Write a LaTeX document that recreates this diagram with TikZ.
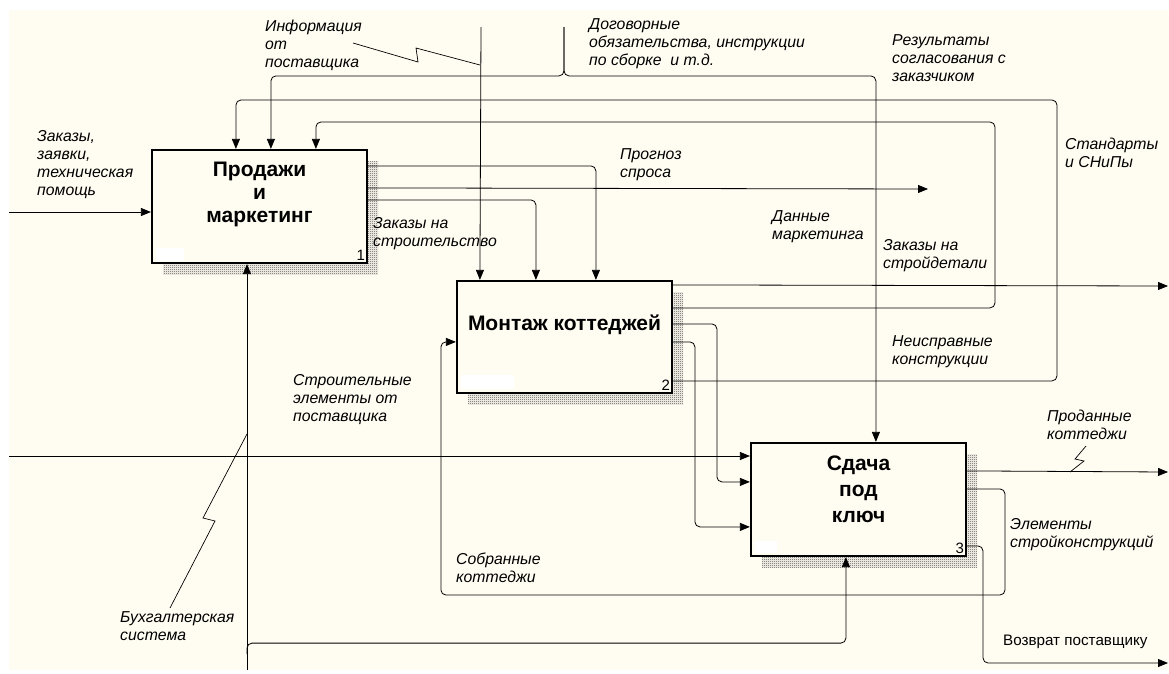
\documentclass[tikz,border=0pt]{standalone}
\usepackage{fontspec}
\setmainfont{Liberation Sans}
\usetikzlibrary{arrows.meta,positioning,calc,patterns}
\definecolor{paper}{HTML}{FFFDF2}

\pgfdeclarepatternformonly{fine checker}{\pgfpointorigin}{\pgfpoint{2pt}{2pt}}{\pgfpoint{2pt}{2pt}}{%
  \pgfpathrectangle{\pgfpointorigin}{\pgfpoint{1pt}{1pt}}%
  \pgfpathrectangle{\pgfpoint{1pt}{1pt}}{\pgfpoint{1pt}{1pt}}%
  \pgfusepath{fill}}

\tikzset{
  proc/.style={draw=black, line width=2.2pt, fill=paper, minimum width=215pt, minimum height=113pt, inner sep=0pt,
    preaction={pattern=fine checker, pattern color=black!70, transform canvas={xshift=11pt,yshift=-11pt}}},
  title/.style={align=center, inner sep=0pt, font=\fontsize{21}{23}\selectfont\bfseries},
  num/.style={anchor=south east, inner sep=3pt, font=\fontsize{15}{15}\selectfont},
  lbl/.style={anchor=north west, align=left, inner sep=0pt, font=\fontsize{15.8}{18}\selectfont\itshape},
  flow/.style={line width=0.8pt, rounded corners=5pt, -{Triangle[length=10pt,width=8pt]}},
  squig/.style={line width=0.7pt},
}

\begin{document}
\begin{tikzpicture}[x=1pt, y=-1pt]

% sheet
\fill[white] (0,0) rectangle (1169,673);
\useasboundingbox (0,0) rectangle (1169,673);
\fill[paper] (9,10) rectangle (1169,670);

% BLOCKS
\node (sales) [proc] at (259.5,206.5) {};
\node (assembly) [proc, minimum height=112pt] at (564.5,337) {};
\node (handover) [proc] at (858.5,499.5) {};

\fill[white] ($(sales.south west)+(5,-3)$) rectangle +(28,-13);
\fill[white] ($(assembly.south west)+(5,-5)$) rectangle +(53,-14);
\fill[white] ($(handover.south west)+(5,-4)$) rectangle +(22,-12);

\node [title] at ([yshift=12.5pt]sales.center) {Продажи\\и\\маркетинг};
\node [title] at ([yshift=12pt]assembly.center) {Монтаж коттеджей};
\node [title, font=\fontsize{21}{26}\selectfont\bfseries] at ([yshift=10.5pt]handover.center) {Сдача\\под\\ключ};

\node [num] at (sales.south east) {1};
\node [num] at (assembly.south east) {2};
\node [num] at (handover.south east) {3};

% free ends
\coordinate (ordersIn) at (9,212);
\coordinate (infoTop) at (481,27);
\coordinate (contractTop) at (564,27);
\coordinate (supplyIn) at (9,456);
\coordinate (accBottom) at (247,670);
\coordinate (accSplit) at (247,654);
\coordinate (forecastEnd) at (928,189);
\coordinate (partsOut) at (1168,286);
\coordinate (soldOut) at (1168,472);
\coordinate (returnOut) at (1168,663);

% INPUTS / CONTROLS
\draw [flow] (ordersIn) -- (sales.west |- ordersIn);
\draw [flow] (infoTop) -- ($(assembly.north west)+(24,0)$);
\draw [flow] (contractTop) |- ($(sales.north west)+(120,-73)$) -- ($(sales.north west)+(120,0)$);
\draw [flow] (contractTop) |- ($(handover.north west)+(126,-366)$) -- ($(handover.north west)+(126,0)$);
\draw [flow] (supplyIn) -- (handover.west |- supplyIn);

% MECHANISM
\draw [flow] (accBottom) -- (accBottom |- sales.south);
\draw [flow] (accSplit) |- ($(handover.south west)+(96,86)$) -- ($(handover.south west)+(96,0)$);

% OUTPUTS block 1
\draw [flow] ($(sales.north east)+(0,17)$) -| ($(assembly.north west)+(140,0)$);
\draw [flow] ($(sales.north east)+(0,39)$) -- (forecastEnd);
\draw [flow] ($(sales.north east)+(0,51)$) -| ($(assembly.north west)+(80,0)$);

% OUTPUTS block 2
\draw [flow] ($(assembly.north east)+(0,5)$) -- (partsOut);
\draw [flow] ($(assembly.north east)+(0,28)$) -| (995,122) -| ($(sales.north west)+(165,0)$);
\draw [flow] ($(assembly.north east)+(0,44)$) -| ($(handover.north west)+(-33,40)$) -- ($(handover.north west)+(0,40)$);
\draw [flow] ($(assembly.north east)+(0,62)$) -| ($(handover.north west)+(-55,85)$) -- ($(handover.north west)+(0,85)$);
\draw [flow] ($(assembly.north east)+(0,101)$) -| (1057,100) -| ($(sales.north west)+(85,0)$);

% OUTPUTS block 3
\draw [flow] ($(handover.north east)+(0,29)$) -- (soldOut);
\draw [flow] ($(handover.north east)+(0,47)$) -| (1005,595) -| ($(assembly.north west)+(-15,62)$) -- ($(assembly.north west)+(0,62)$);
\draw [flow] ($(handover.north east)+(0,104)$) -| (983,663) -- (returnOut);

% labels
\node (infoLbl) [lbl] at (265,20) {Информация\\от\\поставщика};
\node (contractLbl) [lbl] at (589,18) {Договорные\\обязательства, инструкции\\по сборке~ и т.д.};
\node (agreeLbl) [lbl] at (892,34) {Результаты\\согласования с\\заказчиком};
\node (ordersLbl) [lbl] at (37,130) {Заказы,\\заявки,\\техническая\\помощь};
\node (forecastLbl) [lbl] at (620,148) {Прогноз\\спроса};
\node (normsLbl) [lbl] at (1065,138) {Стандарты\\и СНиПы};
\node (buildLbl) [lbl] at (373,217) {Заказы на\\строительство};
\node (marketLbl) [lbl] at (772,210) {Данные\\маркетинга};
\node (partsLbl) [lbl] at (883,239) {Заказы на\\стройдетали};
\node (faultLbl) [lbl] at (892,335) {Неисправные\\конструкции};
\node (supplyLbl) [lbl] at (293,374) {Строительные\\элементы от\\поставщика};
\node (soldLbl) [lbl] at (1047,410) {Проданные\\коттеджи};
\node (elemLbl) [lbl] at (1010,518) {Элементы\\стройконструкций};
\node (builtLbl) [lbl] at (456,553) {Собранные\\коттеджи};
\node (accLbl) [lbl] at (120,611) {Бухгалтерская\\система};
\node (returnLbl) [lbl, font=\fontsize{15.2}{18}\selectfont] at (1003,635) {Возврат поставщику};

% squiggles
\coordinate (infoTip) at (353,43);
\coordinate (accTip) at (170,608);
\coordinate (soldTip) at (1086,446);
\draw [squig] (infoTip) -- (418,62) -- (416,48) -- (480,65);
\draw [squig] (accTip) -- (215,521) -- (203,518) -- (247,434);
\draw [squig] (soldTip) -- (1075,459) -- (1084,461) -- (1070,472);

\end{tikzpicture}
\end{document}
